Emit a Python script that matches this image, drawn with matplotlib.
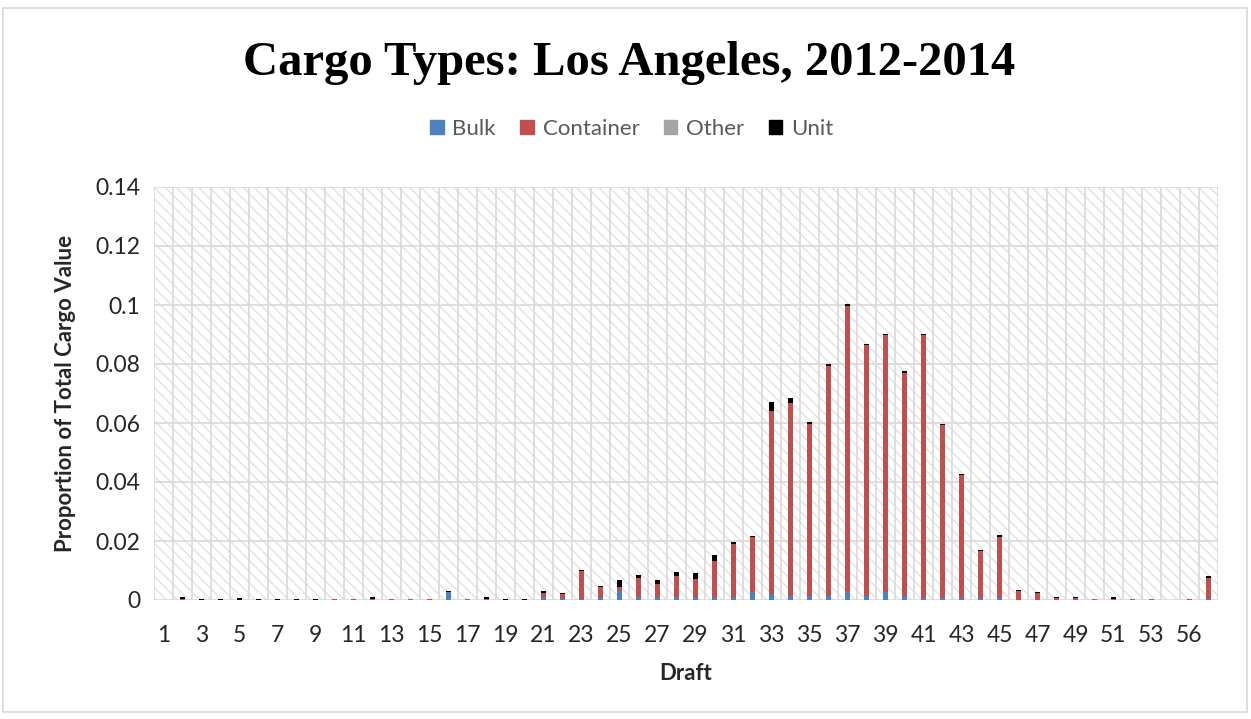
import matplotlib
matplotlib.use("Agg")
import matplotlib.pyplot as plt
import matplotlib.patches as mpatches
import numpy as np

# ── data ────────────────────────────────────────────────────
drafts = list(range(1, 54)) + [55, 56, 57]

bulk = [0, 0, 0, 0, 0, 0, 0, 0, 0, 0,
        0, 0, 0, 0.0003, 0, 0.0027, 0.0003, 0, 0, 0,
        0.0011, 0.0008, 0.0005, 0.0010, 0.0030, 0.0011, 0.0011, 0.0010, 0.0011, 0.0011,
        0.0009, 0.0026, 0.0020, 0.0014, 0.0012, 0.0014, 0.0028, 0.0014, 0.0026, 0.0012,
        0.0008, 0.0007, 0.0006, 0.0006, 0.0006, 0, 0, 0, 0, 0,
        0, 0.0004, 0.0004, 0, 0, 0.0005]

container = [0, 0.0005, 0, 0, 0, 0, 0, 0, 0, 0.0003,
             0.0003, 0.0004, 0.0003, 0, 0.0003, 0, 0, 0.0005, 0, 0,
             0.0014, 0.0013, 0.0093, 0.0035, 0.0013, 0.0065, 0.0042, 0.0070, 0.0060, 0.0122,
             0.0180, 0.0187, 0.0620, 0.0654, 0.0585, 0.0780, 0.0970, 0.0849, 0.0871, 0.0758,
             0.0889, 0.0585, 0.0417, 0.0160, 0.0207, 0.0030, 0.0023, 0.0006, 0.0006, 0.0004,
             0.0005, 0, 0, 0, 0.0004, 0.0069]

other = [0] * 27 + [0.0003] + [0] * 28

unit = [0, 0.0005, 0.0003, 0.0003, 0.0008, 0.0003, 0.0003, 0.0003, 0.0003, 0,
        0, 0.0005, 0, 0, 0, 0.0004, 0, 0.0004, 0.0003, 0.0003,
        0.0004, 0.0004, 0.0003, 0.0004, 0.0025, 0.0010, 0.0015, 0.0011, 0.0020, 0.0018,
        0.0009, 0.0003, 0.0030, 0.0017, 0.0005, 0.0005, 0.0005, 0.0005, 0.0005, 0.0005,
        0.0005, 0.0005, 0.0004, 0.0005, 0.0007, 0.0004, 0.0005, 0.0005, 0.0005, 0,
        0.0005, 0, 0, 0, 0, 0.0007]

series = ["Bulk", "Container", "Other", "Unit"]
colors = ["#4F81BD", "#C0504D", "#A5A5A5", "#000000"]
y_ticks = [0, 0.02, 0.04, 0.06, 0.08, 0.1, 0.12, 0.14]

GRID = "#d9d9d9"
TXT = "#262626"
plt.rcParams["font.family"] = ["Lato", "DejaVu Sans"]
plt.rcParams["hatch.color"] = "#e2e2e2"
plt.rcParams["hatch.linewidth"] = 1.0

fig = plt.figure(figsize=(12.51, 7.19), dpi=100, facecolor="white")
ax = fig.add_axes([154 / 1251, 1 - 600 / 719, 1064 / 1251, 413 / 719])

# hatched plot-area background
ax.patch.set_facecolor("white")
ax.add_patch(mpatches.Rectangle((0, 0), 1, 1, transform=ax.transAxes,
                                facecolor="white", edgecolor="#e2e2e2",
                                hatch="\\\\\\", linewidth=0, zorder=0))

x = np.arange(len(drafts))
bottom = np.zeros(len(drafts))
for name, vals, c in zip(series, [bulk, container, other, unit], colors):
    vals = np.array(vals)
    ax.bar(x, vals, width=0.3, bottom=bottom, color=c, zorder=3, linewidth=0)
    bottom += vals

ax.set_xlim(-0.5, len(drafts) - 0.5)
ax.set_ylim(0, 0.14)

ax.set_xticks(x[::2])
ax.set_xticklabels([str(d) for d in drafts[::2]], fontsize=16.5, color=TXT)
ax.set_xticks(np.arange(-0.5, len(drafts), 1), minor=True)
ax.set_yticks(y_ticks)
ax.set_yticklabels([f"{v:g}" for v in y_ticks], fontsize=16.5, color=TXT)
ax.tick_params(axis="x", which="both", length=0, pad=18)
ax.tick_params(axis="y", length=0, pad=10)

ax.grid(True, axis="y", which="major", color=GRID, linewidth=1.2, zorder=1)
ax.grid(True, axis="x", which="minor", color=GRID, linewidth=1.2, zorder=1)
ax.grid(False, axis="x", which="major")
ax.set_axisbelow(True)
for s in ax.spines.values():
    s.set_visible(False)

ax.set_xlabel("Draft", fontsize=16, fontweight="bold", color=TXT, labelpad=12)
ax.set_ylabel("Proportion of Total Cargo Value", fontsize=16, fontweight="bold",
              color=TXT, labelpad=14)

fig.text(0.503, 0.912, "Cargo Types: Los Angeles, 2012-2014", ha="center", va="center",
         fontsize=35, fontweight="bold", family=["Liberation Serif", "DejaVu Serif"])

handles = [mpatches.Patch(color=c, label=n) for n, c in zip(series, colors)]
fig.legend(handles=handles, loc="center", bbox_to_anchor=(0.505, 1 - 129 / 719), ncol=4,
           frameon=False, fontsize=16, handlelength=0.6, handleheight=0.6,
           handletextpad=0.4, columnspacing=1.1, labelcolor="#595959")

# outer chart border
fig.patches.append(mpatches.Rectangle((3 / 1251, 7 / 719), 1244 / 1251, 704 / 719,
                                      transform=fig.transFigure, fill=False,
                                      edgecolor=GRID, linewidth=1.2))

fig.savefig("out.png", dpi=100, facecolor="white")
